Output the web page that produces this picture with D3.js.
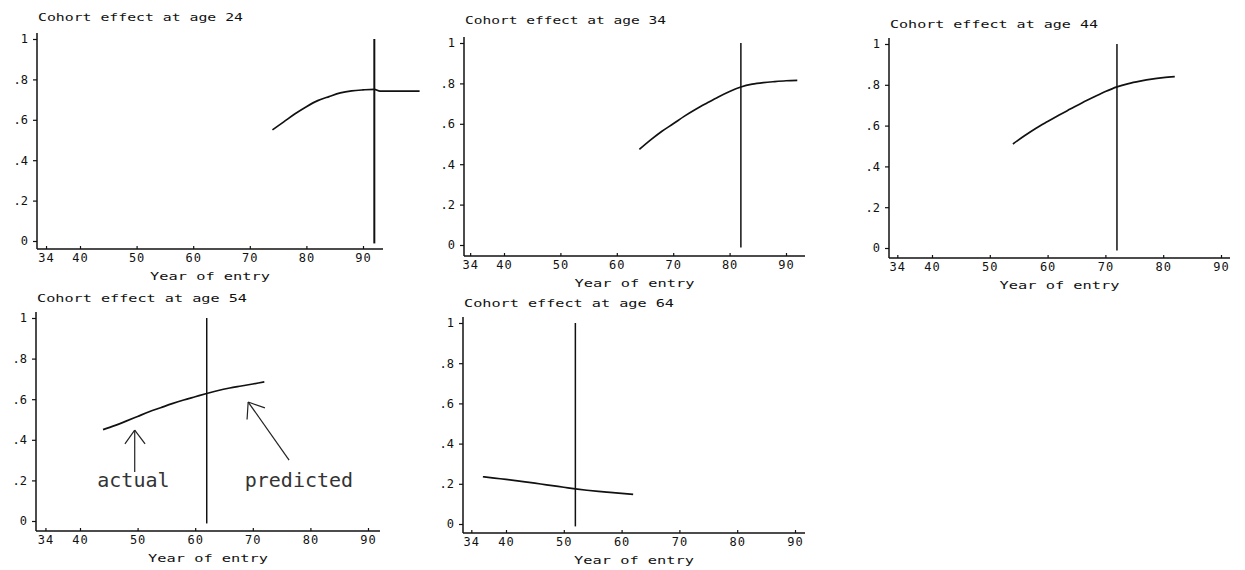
<!DOCTYPE html>
<html><head><meta charset="utf-8">
<script src="https://cdn.jsdelivr.net/npm/d3@7"></script>
<style>
body{margin:0;background:#fff;}
svg{display:block;}
text{font-family:"DejaVu Sans Mono",monospace;fill:#111;}
</style></head>
<body>
<svg id="c" width="1245" height="570"></svg>
<script>
// ---------------- data ----------------
const ages = [24, 34, 44, 54, 64];
const cutYears = [92, 82, 72, 62, 52];          // vertical line (actual | predicted)
const xTickValues = [34, 40, 50, 60, 70, 80, 90];
const yTickValues = [0, 0.2, 0.4, 0.6, 0.8, 1];

const years24 = [74, 76, 78, 80, 82, 84, 86, 88, 90, 92, 93, 100];
const effect24 = [0.55, 0.59, 0.63, 0.665, 0.695, 0.715, 0.733, 0.743, 0.748, 0.751, 0.742, 0.742];

const years34 = [64, 66, 68, 70, 72, 74, 76, 78, 80, 82, 84, 86, 88, 90, 92];
const effect34 = [0.473, 0.52, 0.563, 0.60, 0.638, 0.672, 0.703, 0.733, 0.76, 0.782, 0.796, 0.804, 0.809, 0.813, 0.815];

const years44 = [54, 56, 58, 60, 62, 64, 66, 68, 70, 72, 74, 76, 78, 80, 82];
const effect44 = [0.51, 0.55, 0.587, 0.62, 0.652, 0.682, 0.712, 0.74, 0.767, 0.79, 0.806, 0.818, 0.828, 0.835, 0.84];

const years54 = [44, 46, 48, 50, 52, 54, 56, 58, 60, 62, 64, 66, 68, 70, 72];
const effect54 = [0.45, 0.47, 0.492, 0.515, 0.538, 0.558, 0.578, 0.596, 0.612, 0.628, 0.643, 0.655, 0.665, 0.675, 0.685];

const years64 = [36, 38, 40, 42, 44, 46, 48, 50, 52, 54, 56, 58, 60, 62];
const effect64 = [0.235, 0.228, 0.222, 0.215, 0.207, 0.199, 0.191, 0.183, 0.175, 0.168, 0.162, 0.157, 0.152, 0.147];

const seriesYears = [years24, years34, years44, years54, years64];
const seriesValues = [effect24, effect34, effect44, effect54, effect64];

// annotation (panel age 54) in data units
const noteLabels = ["actual", "predicted"];
const noteTextYear = [43, 68.6];
const noteTextValue = [0.167, 0.167];
const arrowTail = [[49.5, 0.241], [76.3, 0.30]];
const arrowTip = [[49.5, 0.448], [69.2, 0.586]];
const arrowHeadL = [[47.8, 0.38], [69.0, 0.50]];
const arrowHeadR = [[51.3, 0.38], [72.1, 0.557]];

// ---------------- layout ----------------
const frames = [
  {x0: 37,  top: 39,  bot: 241, axisY: 249, p40: 80,  p90: 363,  end: 383, title: 21, tw: 205},
  {x0: 464, top: 43,  bot: 245, axisY: 256, p40: 504, p90: 786,  end: 805, title: 24, tw: 201},
  {x0: 889, top: 44,  bot: 248, axisY: 258, p40: 932, p90: 1221, end: 1230, title: 28, tw: 208},
  {x0: 36,  top: 318, bot: 521, axisY: 531, p40: 80,  p90: 368,  end: 380, title: 302, tw: 210},
  {x0: 463, top: 323, bot: 524, axisY: 533, p40: 506, p90: 795,  end: 805, title: 307, tw: 210}
];

const svg = d3.select("#c");
const yFmt = d => d === 0 ? "0" : d === 1 ? "1" : d3.format(".1f")(d).replace(/^0/, "");

frames.forEach((f, i) => {
  const g = svg.append("g").attr("transform", `translate(${f.x0},0)`);
  const x = d3.scaleLinear().domain([40, 90]).range([f.p40 - f.x0, f.p90 - f.x0]);
  const y = d3.scaleLinear().domain([0, 1]).range([f.bot, f.top]);
  const axisW = f.end - f.x0;

  // title
  g.append("text").attr("x", 1).attr("y", f.title)
    .attr("textLength", f.tw).attr("lengthAdjust", "spacingAndGlyphs")
    .style("font-size", "11px")
    .text(`Cohort effect at age ${ages[i]}`);

  // y axis
  const ya = g.append("g").call(d3.axisLeft(y).tickValues(yTickValues).tickFormat(yFmt)
      .tickSize(4).tickPadding(5));
  ya.select(".domain").remove();
  ya.selectAll("line").attr("stroke", "#111").attr("stroke-width", 1.2);
  ya.selectAll("text").style("font-size", "12px").style("font-family", "DejaVu Sans Mono");
  g.append("line").attr("x1", 0).attr("x2", 0).attr("y1", f.top - 6).attr("y2", f.axisY)
    .attr("stroke", "#111").attr("stroke-width", 1.5);

  // x axis
  const xa = g.append("g").attr("transform", `translate(0,${f.axisY})`)
    .call(d3.axisBottom(x).tickValues(xTickValues).tickFormat(d3.format("d"))
      .tickSizeInner(-3).tickSizeOuter(0).tickPadding(4));
  xa.select(".domain").remove();
  xa.selectAll("line").attr("stroke", "#111").attr("stroke-width", 1.2);
  xa.selectAll("text").style("font-size", "12px").style("letter-spacing", "1px");
  g.append("line").attr("x1", 0).attr("x2", axisW).attr("y1", f.axisY).attr("y2", f.axisY)
    .attr("stroke", "#111").attr("stroke-width", 1.3);
  g.append("text").attr("x", axisW / 2 - 60).attr("y", f.axisY + 31)
    .attr("textLength", 120).attr("lengthAdjust", "spacingAndGlyphs")
    .style("font-size", "11px")
    .text("Year of entry");

  // vertical cut line
  g.append("line").attr("x1", x(cutYears[i])).attr("x2", x(cutYears[i]))
    .attr("y1", y(1)).attr("y2", y(-0.012))
    .attr("stroke", "#111").attr("stroke-width", i === 0 ? 2 : 1.5);

  // curve
  const pts = seriesYears[i].map((yr, k) => [yr, seriesValues[i][k]]);
  g.append("path").datum(pts)
    .attr("fill", "none").attr("stroke", "#111").attr("stroke-width", 1.7)
    .attr("stroke-linejoin", "round")
    .attr("d", d3.line().x(d => x(d[0])).y(d => y(d[1])).curve(d3.curveMonotoneX));

  // annotations on age-54 panel
  if (ages[i] === 54) {
    noteLabels.forEach((lab, k) => {
      g.append("text").attr("x", x(noteTextYear[k])).attr("y", y(noteTextValue[k]))
        .style("font-size", "20px").style("fill", "#333").text(lab);
      const seg = (a, b) => g.append("line")
        .attr("x1", x(a[0])).attr("y1", y(a[1])).attr("x2", x(b[0])).attr("y2", y(b[1]))
        .attr("stroke", "#222").attr("stroke-width", 1.2);
      seg(arrowTail[k], arrowTip[k]);
      seg(arrowHeadL[k], arrowTip[k]);
      seg(arrowHeadR[k], arrowTip[k]);
    });
  }
});
</script>
</body></html>
